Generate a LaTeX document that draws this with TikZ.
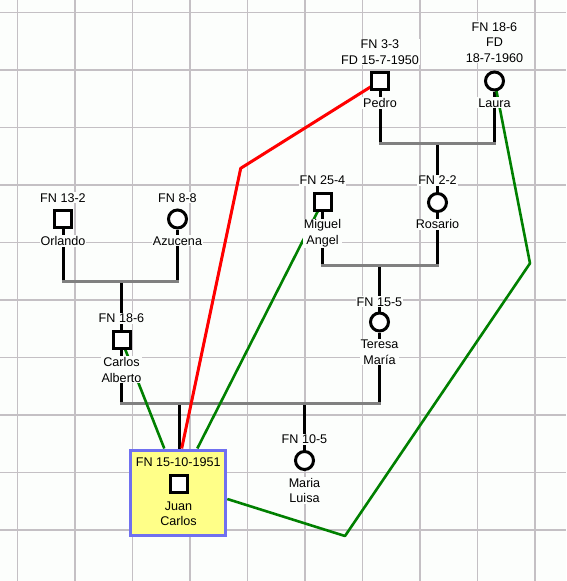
\documentclass[tikz,border=0pt]{standalone}
\usepackage{fontspec}
\setmainfont{Liberation Sans}
\usetikzlibrary{calc}
\definecolor{bgc}{RGB}{252,254,252}
\definecolor{gridc}{RGB}{196,192,196}
\definecolor{famc}{RGB}{128,128,128}
\definecolor{redc}{RGB}{255,0,0}
\definecolor{greenc}{RGB}{0,128,0}
\definecolor{boxfill}{RGB}{255,255,136}
\definecolor{boxdraw}{RGB}{112,112,240}
\pgfdeclarelayer{gridlayer}
\pgfdeclarelayer{edgelayer}
\pgfsetlayers{gridlayer,edgelayer,main}
\begin{document}
\begin{tikzpicture}[x=1pt,y=-1pt,
  every node/.style={font=\fontsize{12.6}{15.5}\selectfont},
  lbl/.style={anchor=north, fill=bgc, inner sep=1pt, align=center},
  inlbl/.style={anchor=north, inner sep=1pt, align=center},
  male/.style={rectangle, draw=black, line width=3pt, fill=white, minimum size=17pt, inner sep=0pt},
  female/.style={circle, draw=black, line width=3pt, fill=white, minimum size=18pt, inner sep=0pt},
  link/.style={line width=3pt, black},
  famline/.style={line width=3pt, famc, line cap=rect},
  redrel/.style={line width=3pt, redc, line join=round},
  greenrel/.style={line width=2.6pt, greenc, line join=round},
  gridline/.style={line width=1.4pt, gridc},
  probandbox/.style={rectangle, draw=boxdraw, fill=boxfill, line width=3pt, minimum width=95pt, minimum height=85pt, inner sep=0pt}
]
\useasboundingbox (0,0) rectangle (566,581);

% proband box
\node[probandbox] (juan) at (178.3,492.5) {};

% labels
\node[lbl] (pedroFN) at (380,38.8) {FN 3-3\\FD 15-7-1950};
\node[lbl] (pedroN) at (380,97.2) {Pedro};
\node[lbl] (lauraFN) at (494.5,21.2) {FN 18-6\\FD\\18-7-1960};
\node[lbl] (lauraN) at (494.5,97.2) {Laura};
\node[lbl] (orlandoFN) at (63,192.2) {FN 13-2};
\node[lbl] (orlandoN) at (63,235.2) {Orlando};
\node[lbl] (azucenaFN) at (177.5,192.2) {FN 8-8};
\node[lbl] (azucenaN) at (177.5,235.2) {Azucena};
\node[lbl] (miguelFN) at (322.5,174.8) {FN 25-4};
\node[lbl] (miguelN) at (322.5,218.5) {Miguel\\Angel};
\node[lbl] (rosarioFN) at (437.5,174.8) {FN 2-2};
\node[lbl] (rosarioN) at (437.5,218.5) {Rosario};
\node[lbl] (carlosFN) at (121.5,312.8) {FN 18-6};
\node[lbl] (carlosN) at (121.5,356.2) {Carlos\\Alberto};
\node[lbl] (teresaFN) at (379.5,296.2) {FN 15-5};
\node[lbl] (teresaN) at (379.5,338.8) {Teresa\\María};
\node[lbl] (marialuisaFN) at (304.5,433.5) {FN 10-5};
\node[lbl] (marialuisaN) at (304.5,476.8) {Maria\\Luisa};
\node[inlbl] (juanFN) at (178.3,456.8) {FN 15-10-1951};
\node[inlbl] (juanN) at (178.5,500.5) {Juan\\Carlos};

% symbols
\node[male] (pedro) at (380,81) {};
\node[female] (laura) at (494.5,81) {};
\node[male] (orlando) at (63,219) {};
\node[female] (azucena) at (177.5,219) {};
\node[male] (miguel) at (322.5,202) {};
\node[female] (rosario) at (437.5,202.5) {};
\node[male] (carlos) at (121.5,340) {};
\node[female] (teresa) at (379.5,322) {};
\node[female] (marialuisa) at (304.5,460.5) {};
\node[male] (juansq) at (179,484) {};

% family line levels and bends
\coordinate (fPL) at (437.5,143.3);
\coordinate (fOA) at (121.5,281);
\coordinate (fMR) at (379.5,265.5);
\coordinate (fCT) at (250,403.3);
\coordinate (rbend) at (240.7,168.3);
\coordinate (gbend1) at (530,263.3);
\coordinate (gbend2) at (345,536);

\begin{pgfonlayer}{gridlayer}
  \fill[bgc] (0,0) rectangle (566,581);
  \foreach \k in {0,...,9} {
    \draw[gridline] ({17.3+57.5*\k},0) -- ({17.3+57.5*\k},581);
    \draw[gridline] (0,{12.3+57.5*\k}) -- (566,{12.3+57.5*\k});
  }
\end{pgfonlayer}

\begin{pgfonlayer}{edgelayer}
  % parent and child links
  \draw[link] (pedro) -- (pedro |- fPL);
  \draw[link] (laura) -- (laura |- fPL);
  \draw[link] (fPL) -- (rosario);
  \draw[link] (orlando) -- (orlando |- fOA);
  \draw[link] (azucena) -- (azucena |- fOA);
  \draw[link] (fOA) -- (carlos);
  \draw[link] (miguel) -- (miguel |- fMR);
  \draw[link] (rosario) -- (rosario |- fMR);
  \draw[link] (fMR) -- (teresa);
  \draw[link] (carlos) -- (carlos |- fCT);
  \draw[link] (teresa) -- (teresa |- fCT);
  \draw[link] (juansq |- fCT) -- (juansq |- juan.north);
  \draw[link] (marialuisa |- fCT) -- (marialuisa);
  % family lines
  \draw[famline] (pedro |- fPL) -- (laura |- fPL);
  \draw[famline] (orlando |- fOA) -- (azucena |- fOA);
  \draw[famline] (miguel |- fMR) -- (rosario |- fMR);
  \draw[famline] (carlos |- fCT) -- (teresa |- fCT);
  % other relations
  \draw[redrel] (pedro.center) -- (rbend) -- ($(juan.north)+(3.4,0)$);
  \draw[greenrel] (carlos.center) -- ($(juan.north)+(-14,0)$);
  \draw[greenrel] (miguel.center) -- ($(juan.north)+(19,0)$);
  \draw[greenrel] (laura.center) -- (gbend1) -- (gbend2) -- ($(juan.east)+(0,6.5)$);
\end{pgfonlayer}
\end{tikzpicture}
\end{document}
